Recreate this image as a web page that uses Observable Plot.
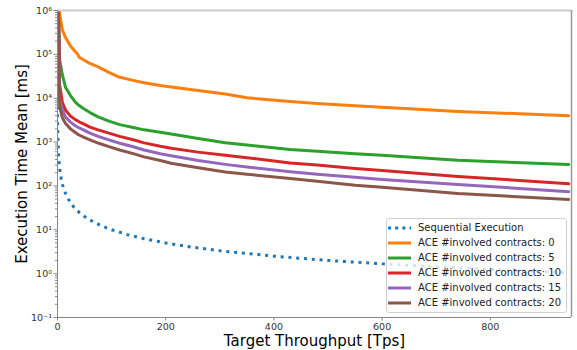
<!DOCTYPE html>
<html><head><meta charset="utf-8">
<script src="https://cdn.jsdelivr.net/npm/d3@7"></script>
<script src="https://cdn.jsdelivr.net/npm/@observablehq/plot@0.6"></script>
<style>
html,body{margin:0;padding:0;background:#fff;}
#wrap{position:relative;width:577px;height:350px;font-family:"DejaVu Sans",sans-serif;}
#wrap svg [aria-label="y-axis label"], #wrap svg [aria-label="x-axis label"]{font-size:15px;fill:#000;}
#legend{position:absolute;left:386px;top:218px;width:179px;height:92px;background:rgba(255,255,255,0.8);border:1px solid #d0d0d0;border-radius:3px;padding-top:1px;box-sizing:content-box;}
#legend .row{height:15px;line-height:15px;display:flex;align-items:center;font-size:10px;color:#222;white-space:nowrap;}
#legend svg{margin-left:1px;margin-right:7px;flex:none;}
</style></head><body><div id="wrap"></div>
<script>
// ---- data ----
const seriesNames = ["Sequential Execution","ACE #involved contracts: 0","ACE #involved contracts: 5","ACE #involved contracts: 10","ACE #involved contracts: 15","ACE #involved contracts: 20"];
const seriesColors = ["#1f77b4","#ff7f0e","#2ca02c","#d62728","#9467bd","#8c564b"];

const seqX = [0.02,0.05,0.1,0.2,0.5,1,2,3,5,7,10,15,20,30,40,50,60,80,100,130,160,200,250,300,400,500,600,700,800,940];
const seqY = [50000,20000,10000,5000,2000,1000,500,333,200,143,100,67,50,33,25,20,16.7,12.5,10,7.7,6.25,5,4,3.33,2.5,2,1.67,1.43,1.25,1.06];

const aceX = [1,4,9,15,24,33,37,40,48,60,75,95,115,140,160,190,210,260,310,350,430,480,550,600,740,945];
const ace0  = [2e6,8.5e5,3.6e5,2.4e5,1.55e5,1.15e5,1.02e5,8.6e4,7.5e4,6.2e4,5.2e4,3.9e4,3.0e4,2.55e4,2.25e4,1.95e4,1.8e4,1.5e4,1.25e4,1.02e4,8.4e3,7.6e3,6.7e3,6.2e3,5.0e3,4.0e3];
const ace5  = [3e6,7.5e4,3.4e4,1.75e4,1.15e4,8.1e3,7.3e3,6.8e3,5.8e3,4.7e3,3.75e3,3.0e3,2.5e3,2.15e3,1.9e3,1.67e3,1.53e3,1.2e3,970,860,680,620,545,500,383,308];
const ace10 = [3e6,2.0e4,8.0e3,5.3e3,3.9e3,3.25e3,3.05e3,2.9e3,2.6e3,2.2e3,1.9e3,1.6e3,1.35e3,1.13e3,960,800,720,590,500,440,335,300,250,225,165,112];
const ace15 = [3e6,1.0e4,5.3e3,3.7e3,2.85e3,2.35e3,2.2e3,2.1e3,1.9e3,1.6e3,1.35e3,1.12e3,940,780,660,540,490,380,310,270,210,185,157,140,108,74];
const ace20 = [3e6,6.5e3,3.6e3,2.65e3,2.0e3,1.65e3,1.52e3,1.45e3,1.3e3,1.12e3,950,790,660,545,460,380,330,260,208,185,148,128,104,93,67,49];

const xDomain = [0, 950];
const yDomain = [0.1, 1e6];
const xTicks = [0, 200, 400, 600, 800];
const yTicks = [0.1, 1, 10, 100, 1000, 10000, 100000, 1000000];

// ---- build ----
const aceSeries = [ace0, ace5, ace10, ace15, ace20];
const seqRows = seqX.map((x,i)=>({s:seriesNames[0], x, y:seqY[i]}));
const aceRows = [];
aceSeries.forEach((arr,k)=>arr.forEach((y,i)=>aceRows.push({s:seriesNames[k+1], x:aceX[i], y})));
const yMinor = [];
yTicks.slice(0,-1).forEach(t=>{for(let m=2;m<=9;m++) yMinor.push(t*m);});
const supMap = {"0":"⁰","1":"¹","2":"²","3":"³","4":"⁴","5":"⁵","6":"⁶","7":"⁷","8":"⁸","9":"⁹","-":"⁻"};
const sup = n => String(n).split("").map(c=>supMap[c]).join("");
const fmtY = d => "10" + sup(Math.round(Math.log10(d)));

const spine = "#888";
const chart = Plot.plot({
  width: 577, height: 350,
  marginLeft: 57, marginRight: 6, marginTop: 10, marginBottom: 33,
  style: {fontFamily: "DejaVu Sans", fontSize: "9.5px", color: "#333", background: "#fff", overflow: "visible"},
  x: {domain: xDomain},
  y: {type: "log", domain: yDomain},
  color: {domain: seriesNames, range: seriesColors},
  marks: [
    Plot.axisX(xTicks, {tickSize: 3.5, tickPadding: 2, stroke: spine, tickFormat: d => String(d), label: "Target Throughput [Tps]", labelAnchor: "center", labelArrow: "none", labelOffset: 28}),
    Plot.axisY(yMinor, {tickSize: 2, stroke: spine, tickFormat: () => "", label: null}),
    Plot.axisY(yTicks, {tickSize: 3.5, tickPadding: 2, stroke: spine, tickFormat: fmtY, label: "Execution Time Mean [ms]", labelAnchor: "center", labelArrow: "none", labelOffset: 41}),
    Plot.line(seqRows, {x: "x", y: "y", stroke: "s", strokeWidth: 3, strokeDasharray: "3,4.8", strokeLinecap: "butt", clip: true}),
    Plot.line(aceRows, {x: "x", y: "y", z: "s", stroke: "s", strokeWidth: 3, strokeLinejoin: "round", clip: true}),
    Plot.ruleY([yDomain[1]], {stroke: "#cccccc", strokeWidth: 2}),
    Plot.ruleX([xDomain[1]], {stroke: "#999", strokeWidth: 1.5}),
    Plot.ruleX([xDomain[0]], {stroke: spine}),
    Plot.ruleY([yDomain[0]], {stroke: spine})
  ]
});
const wrap = document.getElementById("wrap");
wrap.appendChild(chart);

// legend
const lg = document.createElement("div");
lg.id = "legend";
seriesNames.forEach((name,i)=>{
  const row = document.createElement("div");
  row.className = "row";
  const dash = i === 0 ? ' stroke-dasharray="3,4.2"' : '';
  row.innerHTML = `<svg width="23" height="6"><line x1="0" y1="3" x2="23" y2="3" stroke="${seriesColors[i]}" stroke-width="3"${dash}/></svg><span>${name}</span>`;
  lg.appendChild(row);
});
wrap.appendChild(lg);
</script></body></html>
